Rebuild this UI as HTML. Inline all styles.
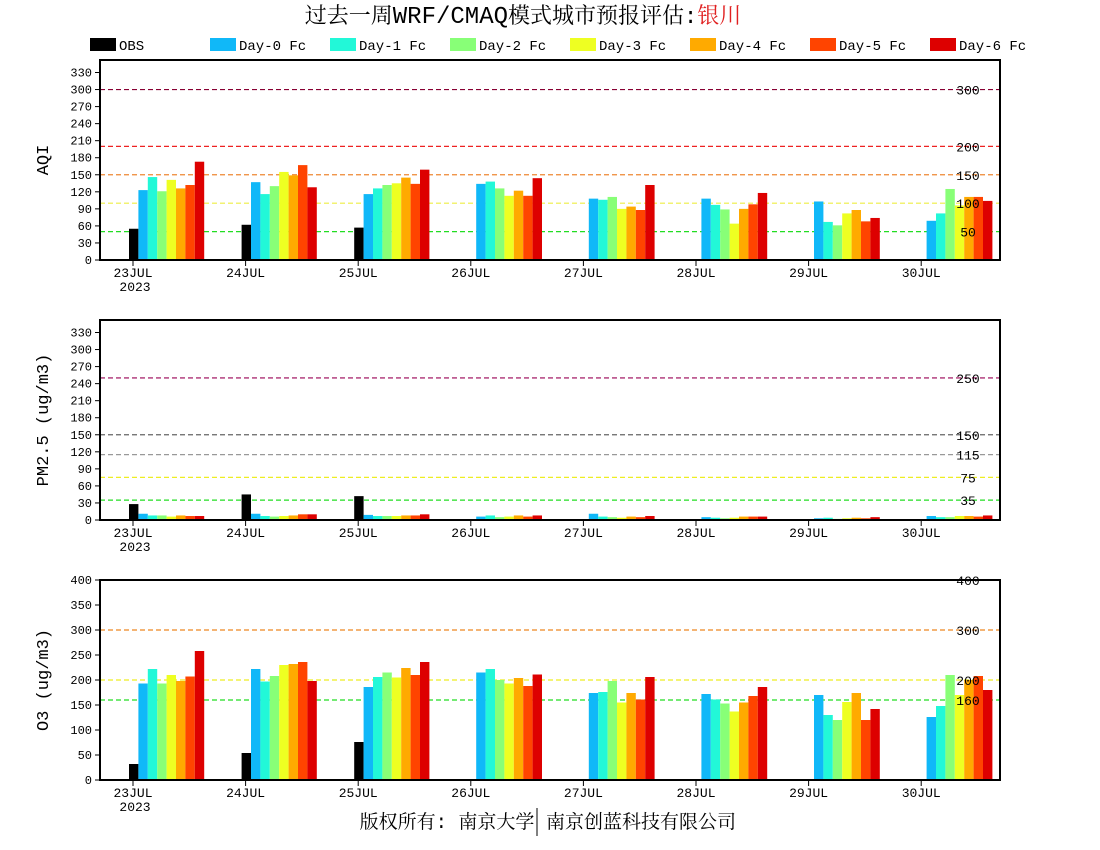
<!DOCTYPE html>
<html><head><meta charset="utf-8"><style>
html,body{margin:0;padding:0;background:#fff;width:1100px;height:850px;overflow:hidden}
svg text{font-family:"Liberation Mono","Noto Serif CJK SC",monospace}
</style></head><body>
<svg id="s" width="1100" height="850" xmlns="http://www.w3.org/2000/svg"></svg>
<script>
const S=document.getElementById('s');let h='';
const cols=['#000000','#10b8f8','#22f8d8','#88ff77','#eeff22','#ffaa00','#ff4400','#dd0000'];
h+=`<text x="523" y="23" text-anchor="middle" font-size="22" style="font-family:'Liberation Mono','Noto Serif CJK SC',monospace">过去一周<tspan font-size="24">WRF/CMAQ</tspan>模式城市预报评估:<tspan fill="#e02020">银川</tspan></text>`;
const leg=['OBS','Day-0 Fc','Day-1 Fc','Day-2 Fc','Day-3 Fc','Day-4 Fc','Day-5 Fc','Day-6 Fc'];
const lx=[90,210,330,450,570,690,810,930];
leg.forEach((t,i)=>{h+=`<rect x="${lx[i]}" y="38" width="26" height="13" fill="${cols[i]}"/><text x="${lx[i]+29}" y="50" font-size="14">${t}</text>`;});
const days=['23JUL','24JUL','25JUL','26JUL','27JUL','28JUL','29JUL','30JUL'];
function panel(top,max,step,nt,title,data,th){
 const y0=top+200,sc=200/max;
 th.forEach(([v,c])=>{const y=y0-v*sc;h+=`<line x1="100" x2="1000" y1="${y}" y2="${y}" stroke="${c}" stroke-dasharray="5,3" stroke-width="1.2"/>`;});
 data.forEach((g,d)=>{const x0=133+112.6*d-4;g.forEach((v,k)=>{if(v==null)return;const hh=v*sc;h+=`<rect x="${x0+k*9.4}" y="${y0-hh}" width="9.4" height="${hh}" fill="${cols[k]}"/>`;});});
 th.forEach(([v,c])=>{const y=y0-v*sc;h+=`<text x="968" y="${y+5}" text-anchor="middle" font-size="13">${v}</text>`;});
 h+=`<rect x="100" y="${top}" width="900" height="200" fill="none" stroke="#000" stroke-width="2"/>`;
 for(let i=0;i<=nt;i++){const v=i*step,y=y0-v*sc;h+=`<line x1="95" x2="100" y1="${y}" y2="${y}" stroke="#000"/><text x="92" y="${y+4}" text-anchor="end" font-size="12">${v}</text>`;}
 days.forEach((d,i)=>{const x=133+112.6*i;h+=`<line x1="${x}" x2="${x}" y1="${y0}" y2="${y0+6}" stroke="#000"/><text x="${x}" y="${y0+17}" text-anchor="middle" font-size="13">${d}</text>`;});
 h+=`<text x="135" y="${y0+31}" text-anchor="middle" font-size="13">2023</text>`;
 h+=`<text transform="translate(48,${top+100}) rotate(-90)" text-anchor="middle" font-size="17">${title}</text>`;
}
const N=null;
panel(60,352,30,11,'AQI',[[55,123,146,121,141,126,132,173],[62,137,116,130,155,149,167,128],[57,116,126,132,135,145,134,159],[N,134,138,126,113,122,113,144],[N,108,106,111,90,94,88,132],[N,108,97,89,64,90,98,118],[N,103,67,61,82,88,68,74],[N,69,82,125,96,111,111,104]],
 [[50,'#22dd22'],[100,'#eeee44'],[150,'#ee8833'],[200,'#ee2222'],[300,'#880033']]);
panel(320,352,30,11,'PM2.5 (ug/m3)',[[28,11,8,8,6,8,7,7],[45,11,7,6,7,8,10,10],[42,9,7,7,7,8,8,10],[N,6,8,5,6,8,6,8],[N,11,6,5,4,6,5,7],[N,5,4,3,4,6,6,6],[N,3,4,2,3,4,3,5],[N,7,5,5,7,7,6,8]],
 [[35,'#22dd22'],[75,'#eeee22'],[115,'#999999'],[150,'#666666'],[250,'#990055']]);
panel(580,400,50,8,'O3 (ug/m3)',[[32,193,222,193,210,198,207,258],[54,222,197,208,230,232,236,198],[76,186,206,215,205,224,210,236],[N,215,222,200,193,204,188,211],[N,174,176,198,155,174,161,206],[N,172,161,153,137,155,168,186],[N,170,130,120,156,174,120,142],[N,126,148,210,170,200,208,180]],
 [[160,'#22dd22'],[200,'#eeee22'],[300,'#ee8822'],[400,'#ee2222']]);
h+=`<text x="447" y="828" text-anchor="middle" font-size="19">版权所有: 南京大学</text><text x="641" y="828" text-anchor="middle" font-size="19">南京创蓝科技有限公司</text><line x1="537" x2="537" y1="808" y2="836" stroke="#000"/>`;
S.innerHTML=h;
</script>
</body></html>
